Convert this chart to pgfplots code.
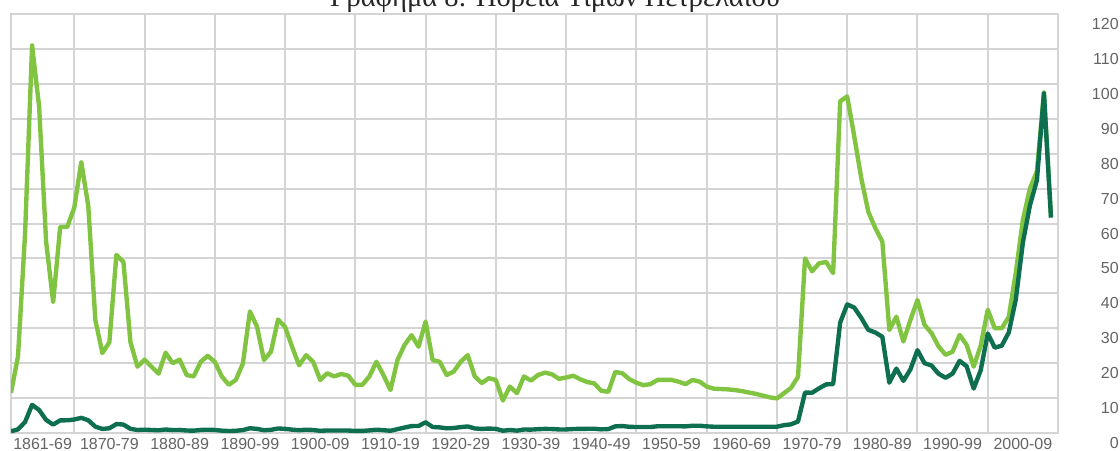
\documentclass[border=0pt]{standalone}
\usepackage{fontspec}
\setmainfont{Liberation Serif}
\newfontfamily\tickfont{Liberation Sans}
\usepackage{pgfplots}
\usepackage{pgfplotstable}
\pgfplotsset{compat=1.18}

\definecolor{realgreen}{RGB}{128,196,66}
\definecolor{nomteal}{RGB}{14,110,80}
\definecolor{gridgray}{RGB}{212,212,212}
\definecolor{labelgray}{RGB}{100,100,100}

% oil price, $/bbl: real (light) and money of the day (dark)
\pgfplotstableread{
year real nominal
1861 11.5 0.49
1862 22 1.05
1863 57 3.15
1864 111 8.06
1865 93.5 6.59
1866 54.7 3.74
1867 37.5 2.41
1868 59 3.62
1869 59 3.64
1870 64.5 3.86
1871 77.6 4.34
1872 65 3.64
1873 32.4 1.83
1874 22.9 1.17
1875 26 1.35
1876 51 2.56
1877 49 2.42
1878 26 1.19
1879 19 0.86
1880 21 0.95
1881 19 0.86
1882 17 0.78
1883 23 1.00
1884 20 0.84
1885 21 0.88
1886 16.6 0.71
1887 16.2 0.67
1888 20.4 0.88
1889 22.1 0.94
1890 20.4 0.87
1891 16.2 0.67
1892 13.8 0.56
1893 15.2 0.64
1894 19.9 0.84
1895 34.8 1.36
1896 30.5 1.18
1897 20.9 0.79
1898 23.3 0.91
1899 32.5 1.29
1900 30.4 1.19
1901 24.7 0.96
1902 19.4 0.80
1903 22.3 0.94
1904 20.4 0.86
1905 15.2 0.62
1906 17.1 0.73
1907 16.2 0.72
1908 16.9 0.72
1909 16.4 0.70
1910 13.8 0.61
1911 13.8 0.61
1912 16.2 0.74
1913 20.4 0.95
1914 16.6 0.81
1915 12.3 0.64
1916 20.9 1.10
1917 25.2 1.56
1918 28 1.98
1919 24.7 2.01
1920 31.9 3.07
1921 20.9 1.73
1922 20.4 1.61
1923 16.6 1.34
1924 17.6 1.43
1925 20.4 1.68
1926 22.3 1.88
1927 16.2 1.30
1928 14.3 1.17
1929 15.7 1.27
1930 15.2 1.19
1931 9.3 0.65
1932 13.3 0.87
1933 11.4 0.67
1934 16.2 1.00
1935 15 0.97
1936 16.6 1.09
1937 17.3 1.18
1938 16.8 1.13
1939 15.5 1.02
1940 15.9 1.02
1941 16.4 1.14
1942 15.4 1.19
1943 14.6 1.20
1944 14.2 1.21
1945 12.1 1.05
1946 11.8 1.12
1947 17.5 1.90
1948 17.1 1.99
1949 15.4 1.78
1950 14.4 1.71
1951 13.7 1.71
1952 14.0 1.71
1953 15.2 1.93
1954 15.2 1.93
1955 15.2 1.93
1956 14.7 1.93
1957 14.0 1.90
1958 15.2 2.08
1959 14.7 2.08
1960 13.3 1.90
1961 12.7 1.80
1962 12.6 1.80
1963 12.5 1.80
1964 12.3 1.80
1965 12.0 1.80
1966 11.6 1.80
1967 11.2 1.80
1968 10.7 1.80
1969 10.2 1.80
1970 9.9 1.80
1971 11.4 2.24
1972 12.9 2.48
1973 16.1 3.29
1974 50 11.58
1975 46.3 11.53
1976 48.6 12.80
1977 49 13.92
1978 45.8 14.02
1979 95 31.61
1980 96.4 36.83
1981 85 35.93
1982 73 32.97
1983 63.4 29.55
1984 58.7 28.78
1985 54.8 27.56
1986 29.5 14.43
1987 33.3 18.44
1988 26.2 14.92
1989 32.4 18.23
1990 38.1 23.73
1991 31 20.00
1992 28.6 19.32
1993 24.8 16.97
1994 22.4 15.82
1995 23.3 17.02
1996 28.1 20.67
1997 25.2 19.09
1998 19 12.72
1999 25 17.97
2000 35.3 28.50
2001 30 24.44
2002 30 25.02
2003 33.3 28.83
2004 46 38.27
2005 61 54.52
2006 70 65.14
2007 75 72.39
2008 97.5 97.26
2009 62 61.67
}\oil

\begin{document}
\begin{tikzpicture}
\begin{axis}[
  name=ax, at={(0,0)}, anchor=south west,
  scale only axis, width=418.8pt, height=167.6pt,
  xmin=1861, xmax=2010, ymin=0, ymax=120,
  axis line style={gridgray, line width=0.8pt},
  xmajorgrids=false, ymajorgrids=true,
  major grid style={gridgray, line width=0.8pt},
  tick style={draw=none},
  xtick={1865.5,1875,1885,1895,1905,1915,1925,1935,1945,1955,1965,1975,1985,1995,2005},
  xticklabels={1861-69,1870-79,1880-89,1890-99,1900-09,1910-19,1920-29,1930-39,1940-49,1950-59,1960-69,1970-79,1980-89,1990-99,2000-09},
  extra x ticks={1870,1880,1890,1900,1910,1920,1930,1940,1950,1960,1970,1980,1990,2000,2010},
  extra x tick style={xmajorgrids=true, xticklabel={}},
  ytick={0,10,...,120},
  yticklabel pos=right,
  /pgf/number format/assume math mode=true,
  ticklabel style={font=\tickfont\fontsize{6.4}{7}\selectfont, text=labelgray},
  xticklabel style={yshift=1.4pt},
  yticklabel style={anchor=east, xshift=27.8pt, yshift=-4pt},
  every axis plot/.append style={line width=1.75pt, line join=round, mark=none},
]
\addplot[realgreen] table[x=year, y=real] {\oil};
\addplot[nomteal] table[x=year, y=nominal] {\oil};
\end{axis}
\node[anchor=base, font=\fontsize{11.4}{13}\selectfont, text=black!85]
  at ([shift={(217.6pt,3.2pt)}]ax.north west) {Γράφημα 8: Πορεία Τιμών Πετρελαίου};
\pgfresetboundingbox
\path[use as bounding box] ([shift={(-4.4pt,-6.8pt)}]ax.south west) rectangle ([shift={(24.8pt,5.6pt)}]ax.north east);
\end{tikzpicture}
\end{document}
